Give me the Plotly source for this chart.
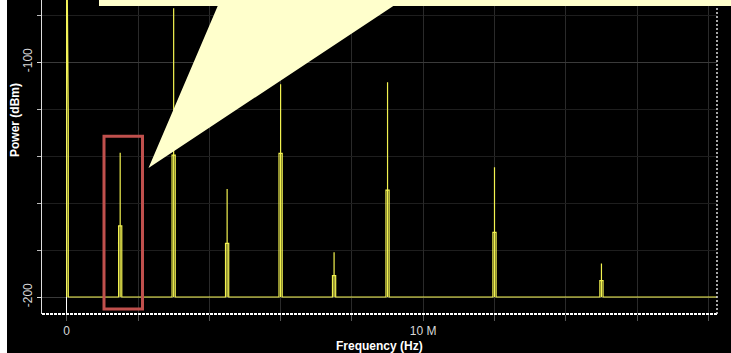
import plotly.graph_objects as go

# ---------------- data ----------------
spike_freq_mhz = [1.5, 3.0, 4.5, 6.0, 7.5, 9.0, 12.0, 15.0]
spike_peak_dbm = [-138.6, -77.1, -154.0, -109.5, -181.0, -108.6, -144.8, -185.7]
spike_shoulder_dbm = [-169.7, -139.6, -177.2, -138.9, -190.9, -154.5, -172.5, -193.0]
dc_freq_mhz = 0.0
dc_peak_dbm = -40.0
dc_shoulder_dbm = -123.0
noise_floor_dbm = -200.0
span_end_mhz = 18.3
bin_half_width_mhz = 0.045

y_tick_vals = [-100, -200]
y_tick_text = ["-100", "-200"]
x_tick_vals_hz = [0, 10e6]
x_tick_text = ["0", "10 M"]

x_title = "Frequency (Hz)"
y_title = "Power (dBm)"

# ---------------- build trace ----------------
d = bin_half_width_mhz
fx = [dc_freq_mhz, dc_freq_mhz, dc_freq_mhz + d, dc_freq_mhz + d]
fy = [noise_floor_dbm, dc_peak_dbm, dc_shoulder_dbm, noise_floor_dbm]
for f, pk, sh in zip(spike_freq_mhz, spike_peak_dbm, spike_shoulder_dbm):
    fx += [f - d, f - d, f, f, f, f, f + d, f + d]
    fy += [noise_floor_dbm, sh, sh, pk, noise_floor_dbm, sh, sh, noise_floor_dbm]
fx.append(span_end_mhz)
fy.append(noise_floor_dbm)
fx_hz = [v * 1e6 for v in fx]

# ---------------- geometry ----------------
W, H = 731, 353
ML, MR, MT, MB = 42, 14, 0, 39
PW, PH = W - ML - MR, H - MT - MB
zero_px = 66.7
px_per_mhz = 35.65
y_px_m100 = 62.0
px_per_db = 2.35

x_lo = (ML - zero_px) / px_per_mhz
x_hi = x_lo + PW / px_per_mhz
y_hi = -100 + (y_px_m100 - MT) / px_per_db
y_lo = y_hi - PH / px_per_db


def xp(px):
    return (px - ML) / PW


def yp(py):
    return (MT + PH - py) / PH


fig = go.Figure()
fig.add_trace(go.Scatter(
    x=fx_hz, y=fy, mode="lines",
    line=dict(color="#f2f250", width=1.2),
    hoverinfo="skip", showlegend=False,
))

tick_font = dict(family="Liberation Sans Narrow, Arial Narrow, Liberation Sans, sans-serif",
                 size=12, color="#d8d8d8")
title_font = dict(family="Liberation Sans, Arial, sans-serif", size=12, color="#ffffff")

fig.update_layout(
    width=W, height=H,
    margin=dict(l=ML, r=MR, t=MT, b=MB, pad=0),
    paper_bgcolor="#000000", plot_bgcolor="#000000",
    showlegend=False,
    xaxis=dict(
        range=[x_lo * 1e6, x_hi * 1e6],
        tickmode="array", tickvals=x_tick_vals_hz, ticktext=x_tick_text,
        tickfont=tick_font, ticks="outside", ticklen=6, tickcolor="#555555",
        showgrid=True, gridcolor="#2a2a2a", gridwidth=1,
        zeroline=True, zerolinecolor="#ffffff", zerolinewidth=1,
        showline=False,
        minor=dict(tickmode="linear", tick0=0, dtick=2e6, showgrid=True,
                   gridcolor="#2a2a2a", ticks="outside", ticklen=6, tickcolor="#555555"),
    ),
    yaxis=dict(
        range=[y_lo, y_hi],
        tickmode="array", tickvals=y_tick_vals, ticktext=y_tick_text,
        tickfont=tick_font, tickangle=-90, ticks="outside", ticklen=4,
        tickcolor="#dddddd",
        showgrid=True, gridcolor="#3a3a3a", gridwidth=1,
        zeroline=False,
        showline=True, linecolor="#dddddd", linewidth=1,
        minor=dict(tickmode="linear", tick0=0, dtick=20, showgrid=True,
                   gridcolor="#1e1e1e", ticks="outside", ticklen=4, tickcolor="#bbbbbb"),
    ),
)

shapes = []
# white strip along the left edge of the picture
shapes.append(dict(type="rect", xref="paper", yref="paper",
                   x0=xp(0), x1=xp(7), y0=yp(H), y1=yp(0),
                   fillcolor="#ffffff", line=dict(width=0), layer="above"))
# dotted bottom axis
shapes.append(dict(type="line", xref="paper", yref="paper",
                   x0=0, x1=1, y0=0, y1=0,
                   line=dict(color="#ffffff", width=2, dash="3px,1px"), layer="above"))
# dotted right border
shapes.append(dict(type="line", xref="paper", yref="paper",
                   x0=1, x1=1, y0=0, y1=1,
                   line=dict(color="#dddddd", width=1.5, dash="2px,2px"), layer="above"))
# callout
pts = [(99, -2), (W + 2, -2), (W + 2, 6), (393.3, 6), (148.5, 168), (217.7, 6), (99, 6)]
path = "M " + " L ".join(f"{xp(a):.5f},{yp(b):.5f}" for a, b in pts) + " Z"
shapes.append(dict(type="path", xref="paper", yref="paper", path=path,
                   fillcolor="#ffffcc", line=dict(width=0), layer="above"))
# red highlight box
shapes.append(dict(type="rect", xref="paper", yref="paper",
                   x0=xp(104), x1=xp(142.5), y0=yp(309), y1=yp(136.3),
                   fillcolor="rgba(0,0,0,0)", line=dict(color="#c0504d", width=3),
                   layer="above"))
fig.update_layout(shapes=shapes)

fig.add_annotation(text=f"<b>{x_title}</b>", xref="paper", yref="paper",
                   x=xp(379), y=yp(346), xanchor="center", yanchor="middle",
                   showarrow=False, font=title_font)
fig.add_annotation(text=f"<b>{y_title}</b>", xref="paper", yref="paper",
                   x=xp(15), y=yp(120), xanchor="center", yanchor="middle",
                   textangle=-90, showarrow=False, font=title_font)

post = "document.body.style.margin='0px';document.body.style.overflow='hidden';"
fig.write_html("out.html", config={"displayModeBar": False}, post_script=post)
